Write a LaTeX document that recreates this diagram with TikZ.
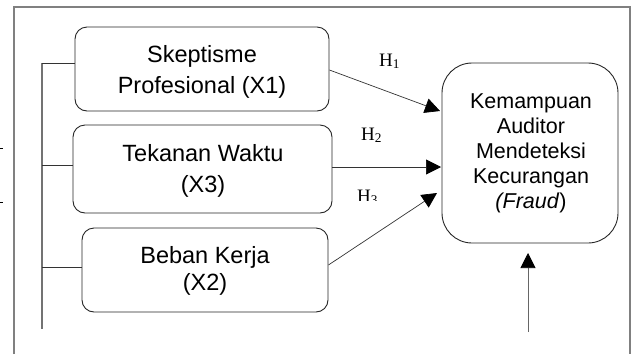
\documentclass[tikz,border=0pt]{standalone}
\usepackage{fontspec}
\setmainfont{Liberation Sans}
\newfontfamily\hserif{Liberation Serif}
\usetikzlibrary{arrows.meta}
\begin{document}
\begin{tikzpicture}[x=1pt,y=-1pt,
  box/.style={draw=black!85, line width=0.9pt, rounded corners=12pt, inner sep=0pt},
  boxtext/.style={align=center, inner sep=0pt},
  frame/.style={draw=black!50, line width=1.4pt},
  brk/.style={draw=black!55, line width=1.2pt},
  stub/.style={draw=black!80, line width=0.9pt},
  arr/.style={draw=black!80, line width=0.7pt, -{Triangle[length=15pt,width=15pt,black]}},
  hlab/.style={anchor=base west, inner sep=0pt, font=\hserif\fontsize{19}{19}\selectfont}
]
\useasboundingbox (0,0) rectangle (637,354);
% outer frame
\draw[frame] (14,354) -- (14,7) -- (630,7) -- (630,354);
% small ticks at left edge
\draw[black, line width=1pt] (0,148) -- (2.5,148);
\draw[black, line width=1pt] (0,202) -- (2.5,202);
% boxes
\node[box, minimum width=254pt, minimum height=84pt] (b1) at (202,69) {};
\node[box, minimum width=259pt, minimum height=88pt] (b2) at (202.5,169) {};
\node[box, minimum width=246pt, minimum height=84pt] (b3) at (205,270) {};
\node[box, rounded corners=30pt, minimum width=176pt, minimum height=180pt] (y) at (530,153) {};
% box texts
\node[boxtext, font=\fontsize{23.5}{31}\selectfont] (t1) at (202,72) {Skeptisme\\Profesional (X1)};
\node[boxtext, font=\fontsize{23.5}{31}\selectfont] (t2) at (203,171) {Tekanan Waktu\\(X3)};
\node[boxtext, font=\fontsize{23.5}{27}\selectfont] (t3) at (205,271) {Beban Kerja\\(X2)};
\node[boxtext, font=\fontsize{21.5}{25}\selectfont] (ty) at (531,153) {Kemampuan\\Auditor\\Mendeteksi\\Kecurangan\\\textit{(Fraud})};
% bracket
\coordinate (bt) at (42,63);
\coordinate (bb) at (42,329);
\draw[brk] (bt) -- (bb);
\coordinate (s2) at (42,165);
\coordinate (s3) at (42,267);
\draw[stub] (bt) -- (b1.west |- bt);
\draw[stub] (s2) -- (b2.west |- s2);
\draw[stub] (s3) -- (b3.west |- s3);
% arrows
\coordinate (e1) at (440,111);
\coordinate (e2) at (441,167);
\coordinate (e3) at (437,193);
\coordinate (a1) at (b1.east |- 0,70);
\coordinate (a2) at (b2.east |- 0,167);
\coordinate (a3) at (b3.east |- 0,265);
\draw[arr] (a1) -- (e1);
\draw[arr] (a2) -- (e2);
\draw[arr] (a3) -- (e3);
\coordinate (f0) at (528,332);
\coordinate (f1) at (528,253);
\draw[arr, draw=black!60] (f0) -- (f1);
% labels
\node[hlab] (h1) at (379,66) {H\textsubscript{1}};
\node[hlab] (h2) at (361,140) {H\textsubscript{2}};
\begin{scope}
\clip (340,150) rectangle (420,200.5);
\node[hlab] (h3) at (357,202) {H\textsubscript{3}};
\end{scope}
\end{tikzpicture}
\end{document}
